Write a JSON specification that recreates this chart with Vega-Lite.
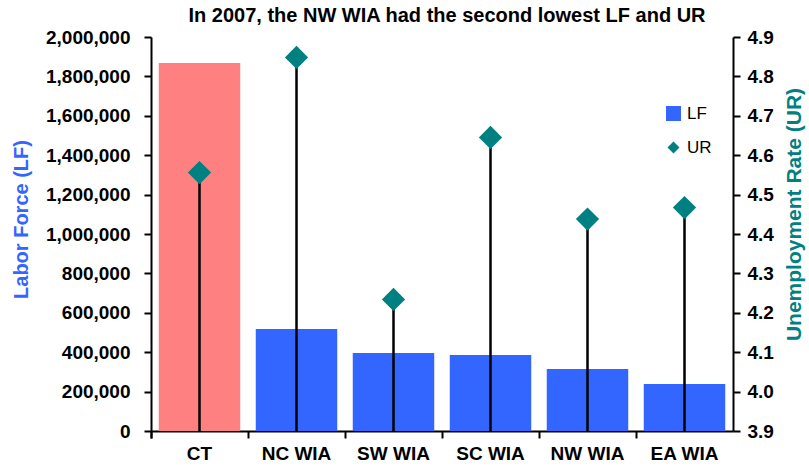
{
  "$schema": "https://vega.github.io/schema/vega-lite/v6.json",
  "width": 582,
  "height": 394,
  "autosize": {"type": "none"},
  "padding": {"left": 151, "top": 37, "right": 76, "bottom": 36},
  "background": "white",
  "config": {"font": "Liberation Sans", "view": {"stroke": null}},
  "title": {
    "text": "In 2007, the NW WIA had the second lowest LF and UR",
    "fontSize": 20,
    "font": "Liberation Sans",
    "fontWeight": "bold",
    "color": "black",
    "anchor": "middle",
    "dx": 5,
    "offset": 2
  },
  "data": {
    "values": [
      {"region": "CT", "LF": 1868000, "UR": 4.556},
      {"region": "NC WIA", "LF": 518000, "UR": 4.848},
      {"region": "SW WIA", "LF": 396000, "UR": 4.234},
      {"region": "SC WIA", "LF": 386000, "UR": 4.645},
      {"region": "NW WIA", "LF": 315000, "UR": 4.438},
      {"region": "EA WIA", "LF": 239000, "UR": 4.467}
    ]
  },
  "encoding": {
    "x": {
      "field": "region",
      "type": "nominal",
      "sort": null,
      "scale": {"paddingInner": 0, "paddingOuter": 0},
      "axis": {
        "title": null,
        "labelAngle": 0,
        "bandPosition": 0,
        "tickExtra": true,
        "labelFontSize": 19,
        "labelFontWeight": "bold",
        "labelColor": "black",
        "labelPadding": 6,
        "domainColor": "black",
        "domainWidth": 2,
        "tickColor": "black",
        "tickWidth": 2,
        "tickSize": 7,
        "grid": false
      }
    }
  },
  "layer": [
    {
      "mark": {"type": "bar", "width": {"band": 0.84}},
      "encoding": {
        "y": {
          "field": "LF",
          "type": "quantitative",
          "scale": {"domain": [0, 2000000], "nice": false},
          "axis": {
            "title": "Labor Force (LF)",
            "titleColor": "#3366FF",
            "titleFontSize": 20,
            "titleFontWeight": "bold",
            "titlePadding": 14,
            "titleY": 182,
            "format": ",d",
            "values": [0, 200000, 400000, 600000, 800000, 1000000, 1200000, 1400000, 1600000, 1800000, 2000000],
            "labelFontSize": 19,
            "labelFontWeight": "bold",
            "labelColor": "black",
            "labelPadding": 14,
            "labelOverlap": false,
            "labelFlush": false,
            "grid": false,
            "domainColor": "black",
            "domainWidth": 2,
            "tickColor": "black",
            "tickWidth": 2,
            "tickSize": 7
          }
        },
        "color": {
          "condition": {"test": "datum.region === 'CT'", "value": "#FF8080"},
          "datum": "LF",
          "type": "nominal",
          "scale": {"domain": ["LF", "UR"], "range": ["#3366FF", "#008080"]},
          "legend": {
            "title": null,
            "orient": "none",
            "legendX": 514,
            "legendY": 68,
            "padding": 0,
            "labelFontSize": 17,
            "labelColor": "black",
            "labelOffset": 5,
            "symbolSize": 225,
            "symbolOpacity": 1,
            "symbolStrokeWidth": 0,
            "rowPadding": 16,
            "encode": {
              "symbols": {
                "update": {
                  "shape": {"signal": "datum.value === 'UR' ? 'diamond' : 'square'"},
                  "size": {"signal": "datum.value === 'UR' ? 144 : 225"}
                }
              }
            }
          }
        }
      }
    },
    {
      "encoding": {
        "y": {
          "field": "UR",
          "type": "quantitative",
          "scale": {"domain": [3.9, 4.9], "nice": false, "zero": false},
          "axis": {
            "orient": "right",
            "title": "Unemployment Rate (UR)",
            "titleColor": "#008080",
            "titleFontSize": 21,
            "titleFontWeight": "bold",
            "titlePadding": 10,
            "titleY": 177,
            "titleAngle": 270,
            "titleBaseline": "top",
            "format": ".1f",
            "values": [3.9, 4.0, 4.1, 4.2, 4.3, 4.4, 4.5, 4.6, 4.7, 4.8, 4.9],
            "labelFontSize": 19,
            "labelFontWeight": "bold",
            "labelColor": "black",
            "labelPadding": 7,
            "labelOverlap": false,
            "labelFlush": false,
            "grid": false,
            "domainColor": "black",
            "domainWidth": 2,
            "tickColor": "black",
            "tickWidth": 2,
            "tickSize": 7
          }
        }
      },
      "layer": [
        {
          "mark": {"type": "rule", "color": "black", "strokeWidth": 2.5},
          "encoding": {
            "y2": {"datum": 3.9}
          }
        },
        {
          "mark": {"type": "point", "shape": "diamond", "filled": true, "size": 540, "opacity": 1},
          "encoding": {
            "color": {"datum": "UR", "type": "nominal"}
          }
        }
      ]
    }
  ],
  "resolve": {"scale": {"y": "independent"}}
}
